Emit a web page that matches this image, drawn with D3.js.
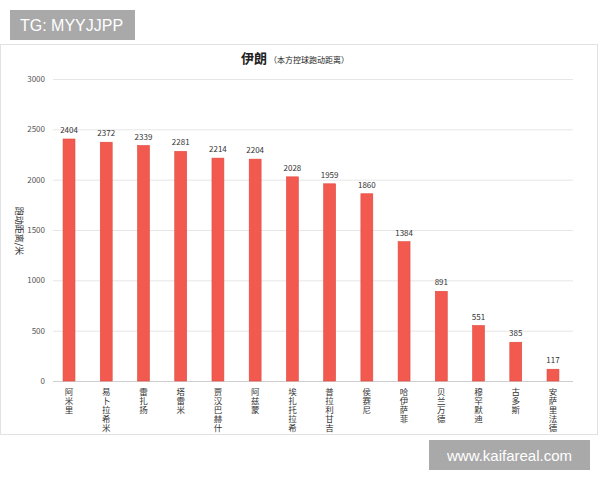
<!DOCTYPE html>
<html>
<head>
<meta charset="utf-8">
<script src="https://cdn.jsdelivr.net/npm/d3@7"></script>
<style>
  body { margin: 0; background: #fff; }
  text { font-family: "Noto Sans CJK SC", "Noto Sans", sans-serif; }
</style>
</head>
<body>
<div id="chart"></div>
<script>
const players = ['阿米里', '易卜拉希米', '雷扎扬', '塔雷米', '贾汉巴赫什', '阿兹蒙', '埃扎托拉希',
    '普拉利甘吉', '侯赛尼', '哈伊萨菲', '贝兰万德', '穆罕默迪', '古多斯', '安萨里法德'];
const distances = [2404, 2372, 2339, 2281, 2214, 2204, 2028, 1959, 1860, 1384, 891, 551, 385, 117];
const y_ticks = [0, 500, 1000, 1500, 2000, 2500, 3000];

const chart_width = 600;
const chart_height = 480;

const svg = d3.select('#chart')
    .append('svg')
    .attr('width', chart_width)
    .attr('height', chart_height);

// chart frame
svg.append('rect')
    .attr('x', 0.5).attr('y', 44.5)
    .attr('width', 597).attr('height', 390)
    .attr('fill', '#fff')
    .attr('stroke', '#e2e2e2');

// Scales
const x_scale = d3.scaleBand()
    .domain(players)
    .range([50.4, 571.6])
    .paddingInner(0.68)
    .paddingOuter(0.34);

const y_scale = d3.scaleLinear()
    .domain([0, 3000])
    .range([381, 79]);

// gridlines + y labels
const y_axis = d3.axisLeft(y_scale)
    .tickValues(y_ticks)
    .tickFormat(d3.format('d'))
    .tickSize(-(573 - 53))
    .tickPadding(8);
const gy = svg.append('g')
    .attr('transform', 'translate(53, 0)')
    .call(y_axis);
gy.select('.domain').remove();
gy.selectAll('.tick line').attr('stroke', d => d === 0 ? '#cfcfcf' : '#e6e6e6');
gy.selectAll('.tick text')
    .attr('fill', '#555')
    .style('font-size', '8px');

// bars
svg.append('g')
    .selectAll('rect')
    .data(distances)
    .enter()
    .append('rect')
    .attr('x', (d, i) => x_scale(players[i]))
    .attr('y', d => y_scale(d))
    .attr('width', x_scale.bandwidth())
    .attr('height', d => y_scale(0) - y_scale(d))
    .attr('fill', '#f25a50')
    .attr('stroke', '#e0463c')
    .attr('stroke-width', 0.6);

// value labels
svg.append('g')
    .selectAll('text')
    .data(distances)
    .enter()
    .append('text')
    .text(d => d)
    .attr('x', (d, i) => x_scale(players[i]) + x_scale.bandwidth() / 2)
    .attr('y', d => y_scale(d) - 6)
    .attr('text-anchor', 'middle')
    .attr('fill', '#333')
    .style('font-size', '8px');

// category labels, one character per line
svg.append('g')
    .selectAll('g')
    .data(players)
    .enter()
    .append('g')
    .attr('transform', d => `translate(${x_scale(d) + x_scale.bandwidth() / 2}, 0)`)
    .selectAll('text')
    .data(d => d.split(''))
    .enter()
    .append('text')
    .attr('x', 0)
    .attr('y', (c, j) => 395 + j * 9)
    .attr('text-anchor', 'middle')
    .attr('fill', '#333')
    .style('font-size', '8.5px')
    .text(c => c);

// y axis title
svg.append('text')
    .attr('transform', 'translate(16, 231) rotate(90)')
    .attr('text-anchor', 'middle')
    .attr('fill', '#333')
    .style('font-size', '9px')
    .text('跑动距离/米');

// title
const title = svg.append('text')
    .attr('x', 241)
    .attr('y', 63)
    .attr('fill', '#222');
title.append('tspan')
    .style('font-size', '13px')
    .style('font-weight', 'bold')
    .text('伊朗');
title.append('tspan')
    .attr('dx', 2)
    .style('font-size', '8px')
    .text('（本方控球跑动距离）');

// watermark boxes
svg.append('rect')
    .attr('x', 10).attr('y', 10)
    .attr('width', 125).attr('height', 30)
    .attr('fill', '#a9a9a9');
svg.append('text')
    .attr('x', 20).attr('y', 31)
    .attr('fill', '#fff')
    .style('font-family', 'Arial, "Liberation Sans", sans-serif')
    .style('font-size', '16px')
    .text('TG: MYYJJPP');

svg.append('rect')
    .attr('x', 429).attr('y', 440)
    .attr('width', 161).attr('height', 30)
    .attr('fill', '#a9a9a9');
svg.append('text')
    .attr('x', 509.5).attr('y', 461)
    .attr('text-anchor', 'middle')
    .attr('fill', '#fff')
    .style('font-family', 'Arial, "Liberation Sans", sans-serif')
    .style('font-size', '15px')
    .text('www.kaifareal.com');
</script>
</body>
</html>
